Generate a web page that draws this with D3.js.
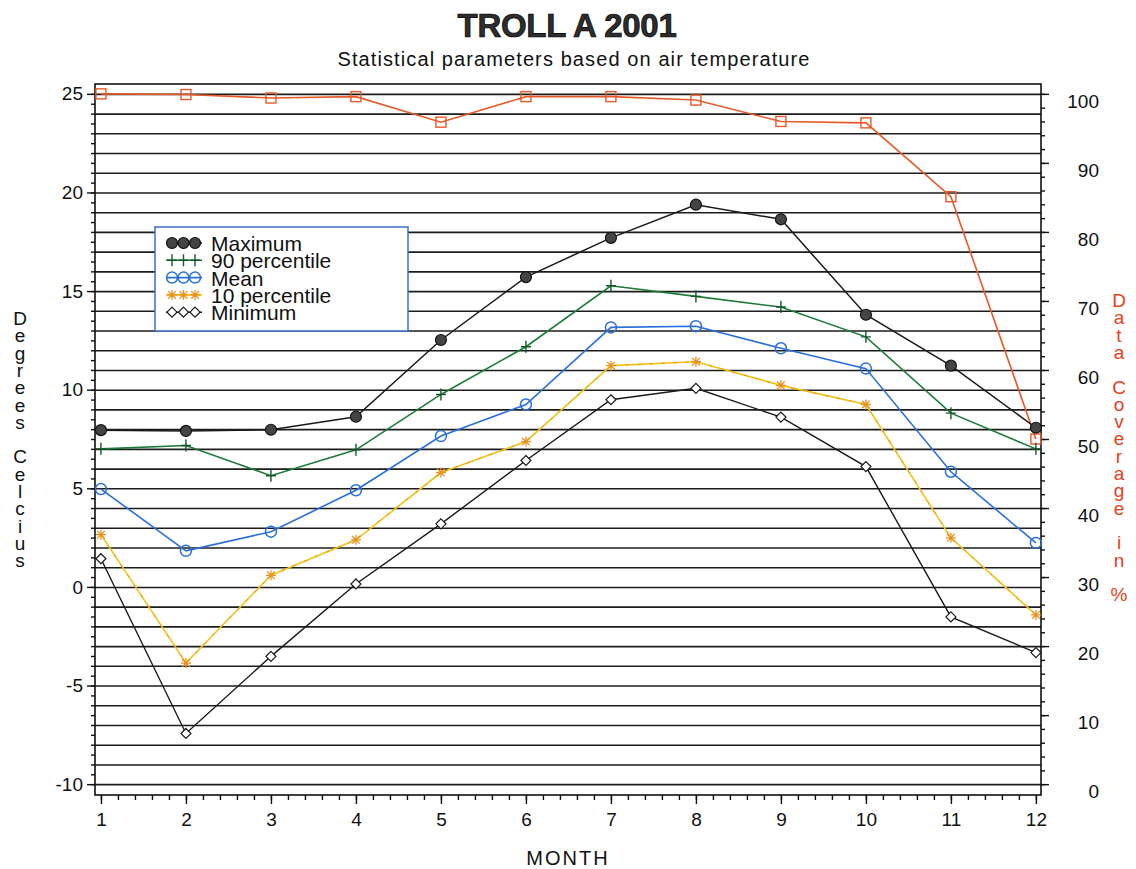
<!DOCTYPE html>
<html>
<head>
<meta charset="utf-8">
<script src="https://cdn.jsdelivr.net/npm/d3@7"></script>
<style>
  html, body { margin: 0; padding: 0; background: #fff; }
  svg { display: block; font-family: "Liberation Sans", Arial, Helvetica, sans-serif; }
</style>
</head>
<body>
<svg id="chart" width="1136" height="869"></svg>
<script>
// ---- Data ----
const months = [1, 2, 3, 4, 5, 6, 7, 8, 9, 10, 11, 12];
const maximum = [7.95, 7.91, 7.97, 8.63, 12.52, 15.71, 17.70, 19.38, 18.64, 13.80, 11.22, 8.07];
const p90 = [7.0, 7.17, 5.64, 6.95, 9.76, 12.18, 15.27, 14.73, 14.19, 12.68, 8.81, 7.0];
const mean = [4.96, 1.83, 2.80, 4.90, 7.65, 9.25, 13.16, 13.22, 12.10, 11.07, 5.84, 2.23];
const p10 = [2.65, -3.86, 0.59, 2.39, 5.80, 7.37, 11.22, 11.42, 10.22, 9.25, 2.49, -1.42];
const minimum = [1.43, -7.43, -3.52, 0.15, 3.20, 6.41, 9.49, 10.07, 8.61, 6.10, -1.52, -3.33];
const coverage = [100, 99.9, 99.4, 99.6, 95.9, 99.6, 99.6, 99.1, 96.0, 95.8, 85.1, 50.0];

const leftTickLabels = [-10, -5, 0, 5, 10, 15, 20, 25];
const rightTickLabels = [0, 10, 20, 30, 40, 50, 60, 70, 80, 90, 100];
const legendNames = ["Maximum", "90 percentile", "Mean", "10 percentile", "Minimum"];

const titleText = "TROLL A 2001";
const subtitleText = "Statistical parameters based on air temperature";
const xTitle = "MONTH";
const yLeftTitle = "Degrees Celcius";
const yRightTitle = "Data Coverage in %";

// ---- Layout ----
const svg = d3.select("#chart");
const L = 95, R = 1041, T = 84, B = 795;

const x = d3.scaleLinear().domain([0.93, 12.06]).range([L, R]);
const y = d3.scaleLinear().domain([-10.55, 25.5]).range([B, T]);
const yR = d3.scaleLinear().domain([0, 100]).range([y(-10), y(25)]);

const fmt = d => String(d);   // plain hyphen-minus like the reference

// ---- Styles ----
const C = {
  grid: "#1c1c1c",
  max: "#1a1a1a", maxFill: "#444",
  p90: "#1f7a3a",
  mean: "#2a6fdb",
  p10line: "#f3c414", p10mark: "#e8921e",
  min: "#1a1a1a",
  cov: "#e65a2a",
  legendBorder: "#3d6fce"
};

// ---- Gridlines ----
const gridVals = d3.range(-10, 25.001, 1);
svg.append("g")
  .attr("transform", `translate(${L},0)`)
  .call(d3.axisLeft(y).tickValues(gridVals).tickSize(-(R - L)).tickFormat(""))
  .call(g => g.select(".domain").remove())
  .call(g => g.selectAll("line").attr("stroke", C.grid).attr("stroke-width", 1.6));

// ---- Left axis ticks ----
svg.append("g")
  .attr("transform", `translate(${L},0)`)
  .call(d3.axisLeft(y).tickValues(d3.range(-10, 25.001, 0.5)).tickSize(4).tickFormat(""))
  .call(g => g.select(".domain").remove())
  .call(g => g.selectAll("line").attr("stroke", "#111").attr("stroke-width", 1.4));
svg.append("g")
  .attr("transform", `translate(${L},0)`)
  .call(d3.axisLeft(y).tickValues(leftTickLabels).tickSize(8).tickPadding(5).tickFormat(fmt))
  .call(g => g.select(".domain").remove())
  .call(g => g.selectAll("line").attr("stroke", "#111").attr("stroke-width", 1.4))
  .call(g => g.selectAll("text").attr("font-size", 19).attr("fill", "#111")
      .attr("font-family", "'Liberation Sans', Arial, sans-serif").attr("x", -12));

// ---- Right axis ticks ----
svg.append("g")
  .attr("transform", `translate(${R},0)`)
  .call(d3.axisRight(yR).tickValues(d3.range(0, 100.001, 2)).tickSize(4).tickFormat(""))
  .call(g => g.select(".domain").remove())
  .call(g => g.selectAll("line").attr("stroke", "#111").attr("stroke-width", 1.4));
svg.append("g")
  .attr("transform", `translate(${R},0)`)
  .call(d3.axisRight(yR).tickValues(rightTickLabels).tickSize(8).tickFormat(fmt))
  .call(g => g.select(".domain").remove())
  .call(g => g.selectAll("line").attr("stroke", "#111").attr("stroke-width", 1.4))
  .call(g => g.selectAll("text").attr("font-size", 19).attr("fill", "#111")
      .attr("font-family", "'Liberation Sans', Arial, sans-serif")
      .attr("text-anchor", "end").attr("x", 58).attr("dy", "0.7em"));

// ---- Bottom axis ticks ----
svg.append("g")
  .attr("transform", `translate(0,${B})`)
  .call(d3.axisBottom(x).tickValues(d3.range(1, 12.001, 0.2)).tickSize(5).tickFormat(""))
  .call(g => g.select(".domain").remove())
  .call(g => g.selectAll("line").attr("stroke", "#111").attr("stroke-width", 1.4));
svg.append("g")
  .attr("transform", `translate(0,${B})`)
  .call(d3.axisBottom(x).tickValues(months).tickSize(9).tickPadding(9).tickFormat(fmt))
  .call(g => g.select(".domain").remove())
  .call(g => g.selectAll("line").attr("stroke", "#111").attr("stroke-width", 1.4))
  .call(g => g.selectAll("text").attr("font-size", 19).attr("fill", "#111")
      .attr("font-family", "'Liberation Sans', Arial, sans-serif"));

// ---- Frame ----
svg.append("rect")
  .attr("x", L).attr("y", T).attr("width", R - L).attr("height", B - T)
  .attr("fill", "none").attr("stroke", "#111").attr("stroke-width", 1.6);

// ---- Marker helpers ----
function drawMarker(g, type, cx, cy) {
  if (type === "max") {
    g.append("circle").attr("cx", cx).attr("cy", cy).attr("r", 5.5)
      .attr("fill", C.maxFill).attr("stroke", "#111").attr("stroke-width", 1.2);
  } else if (type === "p90") {
    g.append("path").attr("d", `M${cx - 5},${cy}H${cx + 5}M${cx},${cy - 6}V${cy + 6}`)
      .attr("stroke", "#14572a").attr("stroke-width", 1.4).attr("fill", "none");
  } else if (type === "mean") {
    g.append("circle").attr("cx", cx).attr("cy", cy).attr("r", 5.5)
      .attr("fill", "none").attr("stroke", C.mean).attr("stroke-width", 1.5);
  } else if (type === "p10") {
    const s = 5, d = 3.8;
    g.append("path").attr("d",
      `M${cx - s},${cy}H${cx + s}M${cx},${cy - s}V${cy + s}M${cx - d},${cy - d}L${cx + d},${cy + d}M${cx - d},${cy + d}L${cx + d},${cy - d}`)
      .attr("stroke", C.p10mark).attr("stroke-width", 1.3).attr("fill", "none");
  } else if (type === "min") {
    g.append("path").attr("d", `M${cx},${cy - 5}L${cx + 5},${cy}L${cx},${cy + 5}L${cx - 5},${cy}Z`)
      .attr("fill", "#fff").attr("stroke", C.min).attr("stroke-width", 1.2);
  } else if (type === "cov") {
    g.append("rect").attr("x", cx - 5).attr("y", cy - 5).attr("width", 10).attr("height", 10)
      .attr("fill", "none").attr("stroke", C.cov).attr("stroke-width", 1.4);
  }
}

// ---- Series ----
const series = [
  { key: "cov", values: coverage, scale: yR, color: C.cov, width: 1.6 },
  { key: "max", values: maximum, scale: y, color: C.max, width: 1.5 },
  { key: "p90", values: p90, scale: y, color: C.p90, width: 1.6 },
  { key: "mean", values: mean, scale: y, color: C.mean, width: 1.6 },
  { key: "p10", values: p10, scale: y, color: C.p10line, width: 1.6 },
  { key: "min", values: minimum, scale: y, color: C.min, width: 1.4 }
];

series.forEach(s => {
  const line = d3.line().x((d, i) => x(months[i])).y(d => s.scale(d));
  const g = svg.append("g");
  g.append("path").datum(s.values).attr("d", line)
    .attr("fill", "none").attr("stroke", s.color).attr("stroke-width", s.width);
  if (s.key === "p10") {
    g.append("path").datum(s.values).attr("d", line)
      .attr("fill", "none").attr("stroke", C.p10mark).attr("stroke-width", 1)
      .attr("stroke-dasharray", "3,9");
  }
  s.values.forEach((v, i) => drawMarker(g, s.key, x(months[i]), s.scale(v)));
});

// ---- Legend ----
const lg = svg.append("g");
lg.append("rect").attr("x", 155).attr("y", 227).attr("width", 253).attr("height", 104)
  .attr("fill", "#fff").attr("stroke", C.legendBorder).attr("stroke-width", 1.5);
const legendKeys = ["max", "p90", "mean", "p10", "min"];
const legendLineColors = [C.max, C.p90, C.mean, C.p10line, C.min];
legendKeys.forEach((k, i) => {
  const cy = 243 + i * 17.3;
  lg.append("line").attr("x1", 166).attr("x2", 202).attr("y1", cy).attr("y2", cy)
    .attr("stroke", legendLineColors[i]).attr("stroke-width", 1.6);
  [172, 183.5, 195].forEach(cx => drawMarker(lg, k, cx, cy));
  lg.append("text").attr("x", 211).attr("y", cy + 8)
    .attr("font-size", 21).attr("fill", "#111").text(legendNames[i]);
});

// ---- Titles ----
svg.append("text").attr("x", 567).attr("y", 37).attr("text-anchor", "middle")
  .attr("font-size", 33).attr("font-weight", "bold").attr("letter-spacing", -0.3)
  .attr("fill", "#2d2d2d").attr("stroke", "#000").attr("stroke-width", 0.7)
  .text(titleText);
svg.append("text").attr("x", 574).attr("y", 66).attr("text-anchor", "middle")
  .attr("font-size", 20).attr("letter-spacing", 1.1).attr("fill", "#111")
  .text(subtitleText);

svg.append("text").attr("x", 568).attr("y", 865).attr("text-anchor", "middle")
  .attr("font-size", 20).attr("letter-spacing", 2).attr("fill", "#111")
  .text(xTitle);

// vertical stacked letters
function stacked(text, cx, yStart, color) {
  const t = svg.append("text").attr("text-anchor", "middle").attr("font-size", 19).attr("fill", color);
  Array.from(text).forEach((ch, i) => {
    t.append("tspan").attr("x", cx).attr("y", yStart + i * 17.3).text(ch === " " ? "\u00a0" : ch);
  });
}
stacked(yLeftTitle, 20, 325, "#111");
stacked(yRightTitle, 1119, 307, "#e2421c");
</script>
</body>
</html>
